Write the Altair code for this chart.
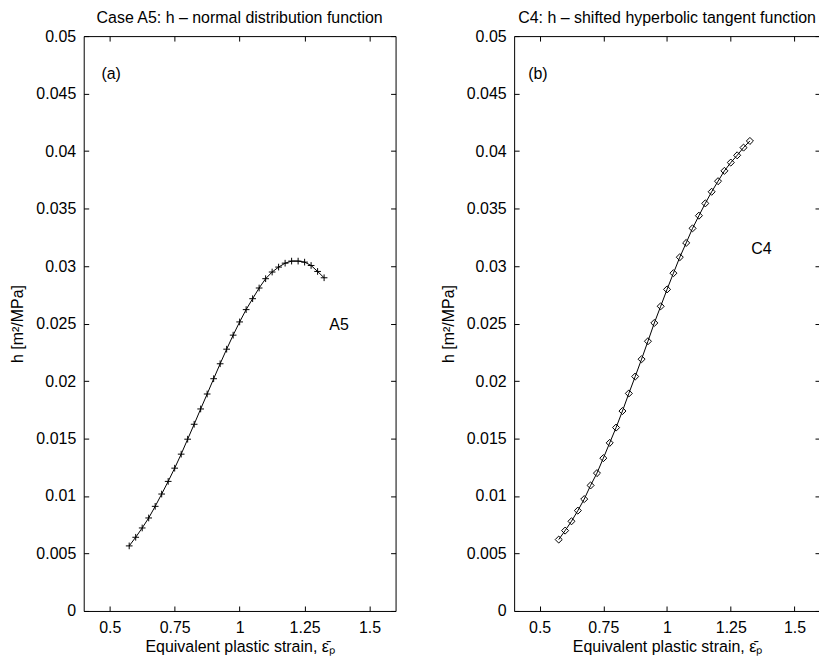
import altair as alt
import pandas as pd

# ---- data ----
strain = [0.575, 0.600, 0.625, 0.650, 0.675, 0.700, 0.725, 0.750, 0.775, 0.800,
          0.825, 0.850, 0.875, 0.900, 0.925, 0.950, 0.975, 1.000, 1.025, 1.050,
          1.075, 1.100, 1.125, 1.150, 1.175, 1.200, 1.225, 1.250, 1.275, 1.300, 1.325]

h_A5 = [0.00566, 0.00641, 0.00722, 0.00809, 0.00910, 0.01017, 0.01127, 0.01242,
        0.01364, 0.01494, 0.01624, 0.01757, 0.01887, 0.02020, 0.02150, 0.02277,
        0.02399, 0.02514, 0.02621, 0.02716, 0.02809, 0.02890, 0.02948, 0.02991,
        0.03025, 0.03043, 0.03043, 0.03034, 0.03005, 0.02953, 0.02898]

h_C4 = [0.00621, 0.00699, 0.00780, 0.00873, 0.00973, 0.01092, 0.01199, 0.01329,
        0.01462, 0.01595, 0.01739, 0.01892, 0.02039, 0.02190, 0.02346, 0.02505,
        0.02650, 0.02797, 0.02938, 0.03077, 0.03201, 0.03328, 0.03438, 0.03545,
        0.03646, 0.03738, 0.03828, 0.03900, 0.03963, 0.04030, 0.04088]

x_ticks = [0.5, 0.75, 1, 1.25, 1.5]
y_ticks = [0, 0.005, 0.01, 0.015, 0.02, 0.025, 0.03, 0.035, 0.04, 0.045, 0.05]
x_domain = [0.4, 1.6]
y_domain = [0, 0.05]

titles = ["Case A5: h \u2013 normal distribution function",
          "C4: h \u2013 shifted hyperbolic tangent function"]
curve_labels = ["A5", "C4"]
curve_label_pos = [(1.345, 0.0249), (1.33, 0.0315)]
panel_tags = ["(a)", "(b)"]
panel_tag_pos = [(0.468, 0.0467), (0.455, 0.0467)]

x_title = "Equivalent plastic strain,  \u03b5\u0304\u209a"
y_title = "h [m\u00b2/MPa]"

FONT = "Liberation Sans"
FS = 16


def panel(h_values, shape, size, title, label, label_pos, tag, tag_pos, width):
    df = pd.DataFrame({"strain": strain, "h": h_values})
    xs = alt.Scale(domain=x_domain, nice=False, zero=False)
    ys = alt.Scale(domain=y_domain, nice=False, zero=False)

    common = dict(labelFont=FONT, titleFont=FONT, labelFontSize=FS, titleFontSize=FS,
                  titleFontWeight="normal", labelColor="black", titleColor="black",
                  tickColor="black", tickSize=5, offset=-5, domain=False, grid=False)
    x_main = alt.Axis(orient="bottom", values=x_ticks, format=".4~g", title=x_title,
                      labelPadding=9, titlePadding=3, **common)
    y_main = alt.Axis(orient="left", values=y_ticks, format=".4~g", title=y_title,
                      labelPadding=8, titlePadding=10, **common)
    x_top = alt.Axis(orient="top", values=x_ticks, labels=False, title=None, **common)
    y_right = alt.Axis(orient="right", values=y_ticks, labels=False, title=None, **common)

    line = alt.Chart(df).mark_line(color="black", strokeWidth=1).encode(
        x=alt.X("strain:Q", scale=xs, axis=x_main),
        y=alt.Y("h:Q", scale=ys, axis=y_main),
    )
    pts = alt.Chart(df).mark_point(shape=shape, size=size, filled=False,
                                   color="black", strokeWidth=1, opacity=1).encode(
        x=alt.X("strain:Q", scale=xs, axis=None),
        y=alt.Y("h:Q", scale=ys, axis=None),
    )
    ghost = alt.Chart(df).mark_point(opacity=0).encode(
        x=alt.X("strain:Q", scale=xs, axis=x_top),
        y=alt.Y("h:Q", scale=ys, axis=y_right),
    )
    lab_df = pd.DataFrame({"x": [label_pos[0], tag_pos[0]],
                           "y": [label_pos[1], tag_pos[1]],
                           "t": [label, tag]})
    labels = alt.Chart(lab_df).mark_text(align="left", baseline="middle",
                                         fontSize=FS, font=FONT, color="black").encode(
        x=alt.X("x:Q", scale=xs, axis=None),
        y=alt.Y("y:Q", scale=ys, axis=None),
        text="t:N",
    )
    return alt.layer(line, pts, ghost, labels).resolve_axis(
        x="independent", y="independent"
    ).properties(
        width=width, height=577,
        title=alt.TitleParams(text=title, fontSize=FS, font=FONT, fontWeight="normal",
                              anchor="middle", offset=2, color="black"),
    )


plus = "M-1,0L1,0M0,-1L0,1"
left = panel(h_A5, plus, 45, titles[0], curve_labels[0], curve_label_pos[0],
             panel_tags[0], panel_tag_pos[0], 313)
right = panel(h_C4, "diamond", 50, titles[1], curve_labels[1], curve_label_pos[1],
              panel_tags[1], panel_tag_pos[1], 307)

chart = alt.hconcat(left, right, spacing=43).properties(
    padding={"left": 1, "top": 0, "right": -2, "bottom": 0}
).configure(background="white").configure_view(
    stroke="black", strokeWidth=1
)

chart.save("out.html", embed_options={"renderer": "svg", "actions": False})
